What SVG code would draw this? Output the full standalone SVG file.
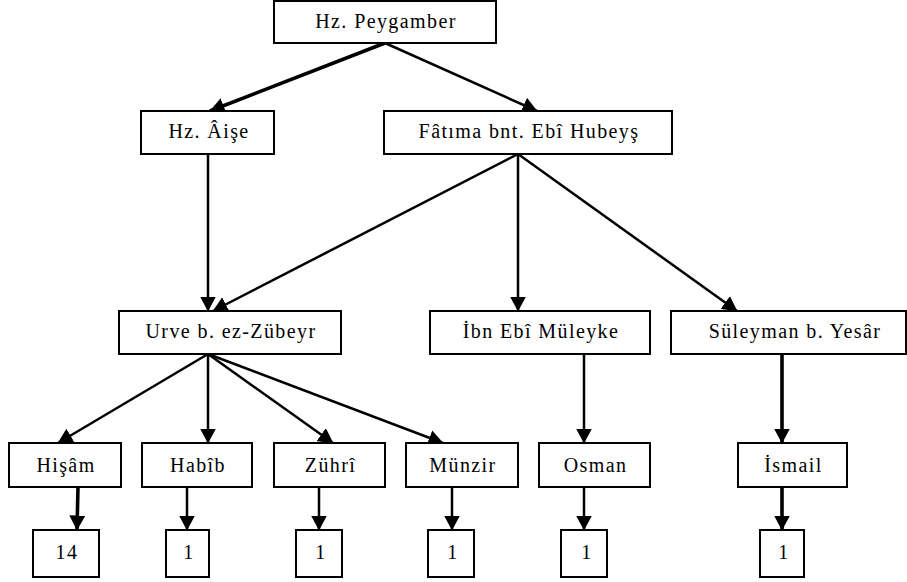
<svg xmlns="http://www.w3.org/2000/svg" width="907" height="582" viewBox="0 0 907 582">
<style>
rect{fill:#fff;stroke:#000;stroke-width:2}
text{font-family:'Liberation Serif','Times New Roman',serif;font-size:20px;letter-spacing:1.4px;text-anchor:middle;fill:#000}
.c line{stroke:#000;stroke-width:2.5;marker-end:url(#a)}
.c .t{stroke-width:3.6}
</style>
<defs>
<marker id="a" markerUnits="userSpaceOnUse" markerWidth="15" markerHeight="16" refX="14.5" refY="8" orient="auto" viewBox="0 0 15 16">
<path d="M0,0 L15,8 L0,16 Z" fill="#000"/>
</marker>
</defs>
<g class="c" id="connectors">
<line class="t" x1="385" y1="43" x2="210" y2="111"/>
<line x1="385" y1="43" x2="537" y2="111"/>
<line x1="208" y1="154" x2="208" y2="311"/>
<line x1="518" y1="154" x2="213" y2="311"/>
<line x1="518" y1="154" x2="518" y2="311"/>
<line x1="518" y1="154" x2="737" y2="311"/>
<line x1="208" y1="354" x2="58" y2="443"/>
<line x1="208" y1="354" x2="208" y2="443"/>
<line x1="208" y1="354" x2="333" y2="443"/>
<line x1="208" y1="354" x2="443" y2="443"/>
<line x1="584" y1="354" x2="584" y2="443"/>
<line class="t" x1="782" y1="354" x2="782" y2="443"/>
<line class="t" x1="78" y1="487" x2="77" y2="530"/>
<line x1="187" y1="487" x2="187" y2="530"/>
<line x1="319" y1="487" x2="319" y2="530"/>
<line x1="452" y1="487" x2="452" y2="530"/>
<line x1="584" y1="487" x2="584" y2="530"/>
<line class="t" x1="782" y1="487" x2="782" y2="530"/>
</g>
<g id="peygamber"><rect x="274" y="1" width="222" height="42"/><text x="386" y="28">Hz. Peygamber</text></g>
<g id="aise"><rect x="141" y="111" width="133" height="43"/><text x="209" y="138">Hz. Âişe</text></g>
<g id="fatima"><rect x="384" y="111" width="288" height="43"/><text x="529" y="138">Fâtıma bnt. Ebî Hubeyş</text></g>
<g id="urve"><rect x="119" y="311" width="222" height="43"/><text x="231" y="338">Urve b. ez-Zübeyr</text></g>
<g id="ibn"><rect x="430" y="311" width="220" height="43"/><text x="541" y="338">İbn Ebî Müleyke</text></g>
<g id="suleyman"><rect x="671" y="311" width="235" height="43"/><text x="795" y="338">Süleyman b. Yesâr</text></g>
<g id="hisam"><rect x="9" y="443" width="112" height="44"/><text x="66" y="472">Hişâm</text></g>
<g id="habib"><rect x="142" y="443" width="110" height="44"/><text x="198" y="472">Habîb</text></g>
<g id="zuhri"><rect x="274" y="443" width="111" height="44"/><text x="330.5" y="472">Zührî</text></g>
<g id="munzir"><rect x="406" y="443" width="112" height="44"/><text x="463" y="472">Münzir</text></g>
<g id="osman"><rect x="539" y="443" width="111" height="44"/><text x="595.5" y="472">Osman</text></g>
<g id="ismail"><rect x="738" y="443" width="109" height="44"/><text x="793.5" y="472">İsmail</text></g>
<g id="n14"><rect x="33" y="530" width="66" height="47"/><text x="67" y="559">14</text></g>
<g id="n1a"><rect x="166" y="530" width="43" height="47"/><text x="189" y="559">1</text></g>
<g id="n1b"><rect x="296" y="530" width="46" height="47"/><text x="321" y="559">1</text></g>
<g id="n1c"><rect x="428" y="530" width="46" height="47"/><text x="453" y="559">1</text></g>
<g id="n1d"><rect x="561" y="530" width="46" height="47"/><text x="587" y="559">1</text></g>
<g id="n1e"><rect x="760" y="530" width="44" height="47"/><text x="784" y="559">1</text></g>
</svg>
